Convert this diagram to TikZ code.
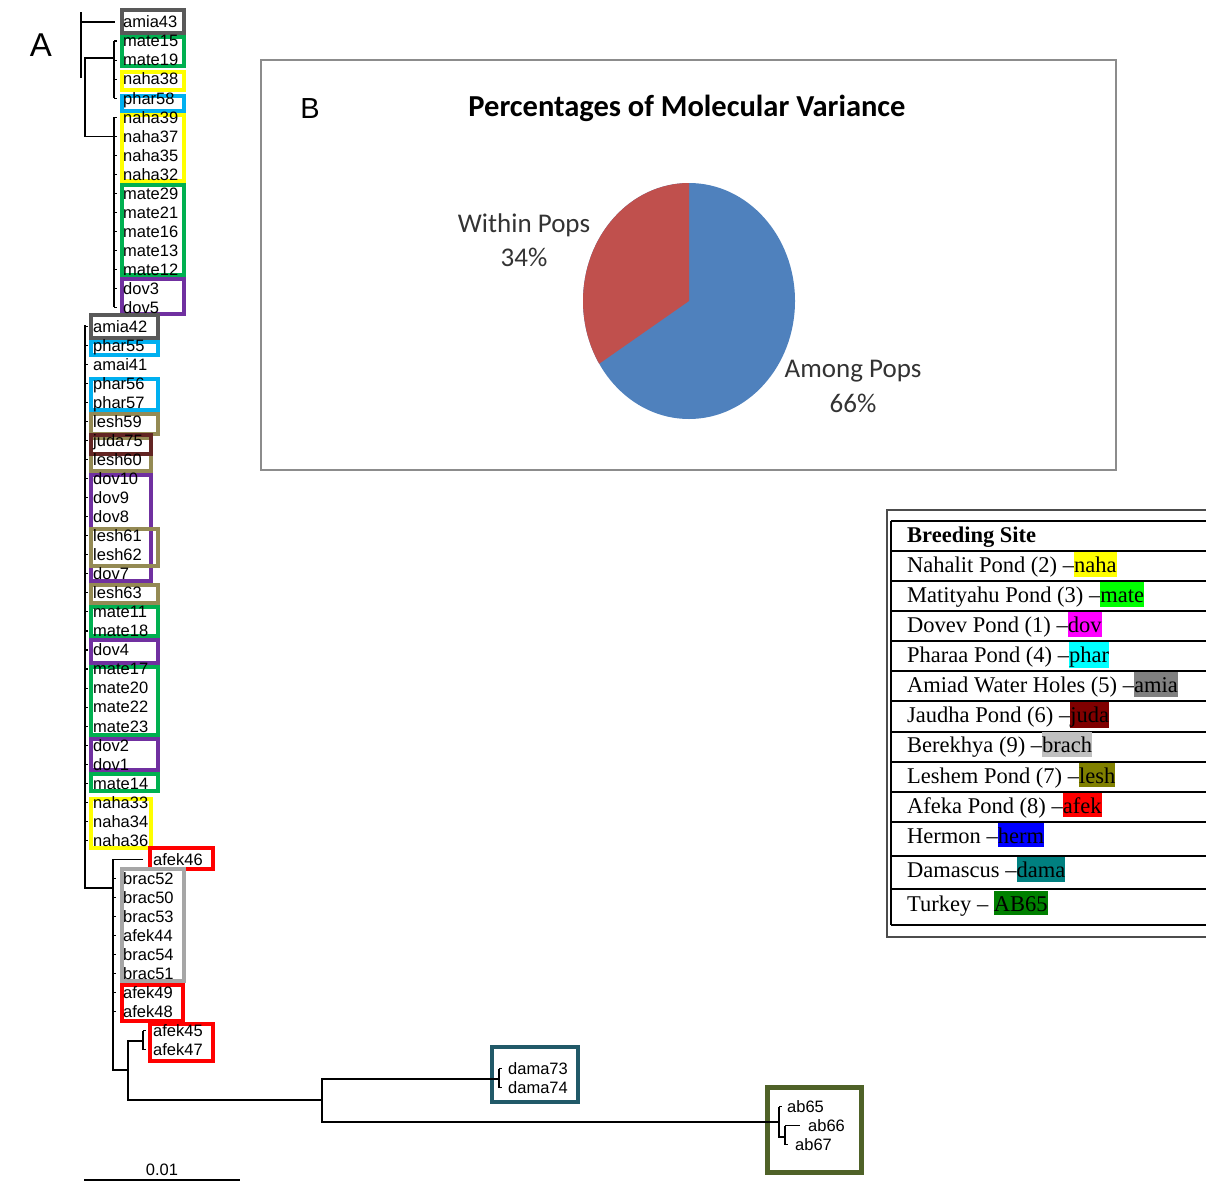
\documentclass[tikz,border=0pt]{standalone}
\usepackage{fontspec}
\setmainfont{Liberation Serif}
\newfontfamily\arialfont{Liberation Sans}
\newfontfamily\calibrifont{Carlito}
\usepackage{tikz}
\def\amovapie{(689,301) ellipse (106 and 118)}
\definecolor{amia edge}{HTML}{595959}
\definecolor{mate edge}{HTML}{00B050}
\definecolor{naha edge}{HTML}{FFFF00}
\definecolor{phar edge}{HTML}{00B0F0}
\definecolor{dov edge}{HTML}{7030A0}
\definecolor{lesh edge}{HTML}{948A54}
\definecolor{juda edge}{HTML}{632523}
\definecolor{brac edge}{HTML}{A6A6A6}
\definecolor{afek edge}{HTML}{FF0000}
\definecolor{dama edge}{HTML}{215968}
\definecolor{ab edge}{HTML}{4F6228}
\definecolor{among area}{HTML}{4F81BD}
\definecolor{within area}{HTML}{C0504D}
\definecolor{tag naha}{HTML}{FFFF00}
\definecolor{tag mate}{HTML}{00FF00}
\definecolor{tag dov}{HTML}{FF00FF}
\definecolor{tag phar}{HTML}{00FFFF}
\definecolor{tag amia}{HTML}{808080}
\definecolor{tag juda}{HTML}{800000}
\definecolor{tag brach}{HTML}{C0C0C0}
\definecolor{tag lesh}{HTML}{808000}
\definecolor{tag afek}{HTML}{FF0000}
\definecolor{tag herm}{HTML}{0000FF}
\definecolor{tag dama}{HTML}{008080}
\definecolor{tag ab}{HTML}{008000}
\newcommand{\sitetag}[2]{{\setlength{\fboxsep}{0pt}\colorbox{#1}{\rule[-4pt]{0pt}{24.5pt}#2}}}
\tikzset{leaf/.style={font=\arialfont\fontsize{16.5}{18}\selectfont, inner sep=0pt, anchor=west, text height=11.8pt, text depth=0pt},
	branch/.style={draw=black, line width=1.3pt},
	leaftick/.style={draw=black, line width=1.1pt},
	popbox/.style={draw=#1, line width=4pt},
	siterow/.style={font=\fontsize{22.5}{27}\selectfont, inner sep=0pt, anchor=base west},
	rowline/.style={draw=black, line width=2pt}}

\begin{document}
\begin{tikzpicture}[x=1pt, y=-1pt]
		\useasboundingbox (0,0) rectangle (1206,1194);
		% population boxes
		\draw[popbox=amia edge] (122,10) rectangle (184,33);
		\draw[popbox=mate edge] (122,37) rectangle (184,66);
		\draw[popbox=naha edge] (122,72) rectangle (184,90);
		\draw[popbox=phar edge] (122,96) rectangle (184,111);
		\draw[popbox=naha edge] (122,115) rectangle (184,181);
		\draw[popbox=mate edge] (122,185) rectangle (184,275);
		\draw[popbox=dov edge] (122,279) rectangle (184,314);
		\draw[popbox=amia edge] (91,315) rectangle (158,338);
		\draw[popbox=phar edge] (91,342) rectangle (158,355);
		\draw[popbox=phar edge] (91,379) rectangle (158,410);
		\draw[popbox=lesh edge] (91,414) rectangle (158,434);
		\draw[popbox=lesh edge] (91,438) rectangle (151,471);
		\draw[popbox=juda edge] (91,435) rectangle (151,454);
		\draw[popbox=dov edge] (91,475) rectangle (151,581);
		\draw[popbox=lesh edge] (91,529) rectangle (158,566);
		\draw[popbox=lesh edge] (91,585) rectangle (158,603);
		\draw[popbox=mate edge] (91,607) rectangle (158,636);
		\draw[popbox=dov edge] (91,640) rectangle (158,663);
		\draw[popbox=mate edge] (91,667) rectangle (158,735);
		\draw[popbox=dov edge] (91,739) rectangle (158,770);
		\draw[popbox=mate edge] (91,774) rectangle (158,791);
		\draw[popbox=naha edge] (91,799) rectangle (151,848);
		\draw[popbox=afek edge] (150,848) rectangle (213,869);
		\draw[popbox=brac edge] (122,869) rectangle (184,981);
		\draw[popbox=afek edge] (122,985) rectangle (183,1021);
		\draw[popbox=afek edge] (150,1024) rectangle (213,1061);
		\draw[popbox=dama edge] (492,1047) rectangle (578,1102);
		\draw[popbox=ab edge, line width=5pt] (767,1087) rectangle (861,1172);
		
		% leaves
		\foreach \leaf [count=\r from 0] in {amia43,mate15,mate19,naha38,phar58,naha39,naha37,naha35,naha32,mate29,mate21,mate16,mate13,mate12,dov3,dov5}
			\node[leaf] (\leaf) at (123,{22+19.03*\r}) {\leaf};
		\foreach \leaf [count=\r from 16] in {amia42,phar55,amai41,phar56,phar57,lesh59,juda75,lesh60,dov10,dov9,dov8,lesh61,lesh62,dov7,lesh63,mate11,mate18,dov4,mate17,mate20,mate22,mate23,dov2,dov1,mate14,naha33,naha34,naha36}
			\node[leaf] (\leaf) at (93,{22+19.03*\r}) {\leaf};
		\node[leaf] (afek46) at (153,{22+19.03*44}) {afek46};
		\foreach \leaf [count=\r from 45] in {brac52,brac50,brac53,afek44,brac54,brac51,afek49,afek48}
			\node[leaf] (\leaf) at (123,{22+19.03*\r}) {\leaf};
		\node[leaf] (afek45) at (153,{22+19.03*53}) {afek45};
		\node[leaf] (afek47) at (153,{22+19.03*54}) {afek47};
		\node[leaf] (dama73) at (508,{22+19.03*55}) {dama73};
		\node[leaf] (dama74) at (508,{22+19.03*56}) {dama74};
		\node[leaf] (ab65) at (787,{22+19.03*57}) {ab65};
		\node[leaf] (ab66) at (808,{22+19.03*58}) {ab66};
		\node[leaf] (ab67) at (795,{22+19.03*59}) {ab67};
		
		% tree
		\coordinate (root) at (81,12);
		\coordinate (cA) at (85,58);
		\coordinate (cA1) at (114,41);
		\coordinate (cA2) at (114,117);
		\coordinate (cB) at (85,325);
		\coordinate (cC) at (113,1070);
		\coordinate (cE) at (143,1041);
		\coordinate (cE2) at (128,1100);
		\coordinate (cD) at (322,1100);
		\coordinate (cDam) at (499,1079);
		\coordinate (cAb) at (779,1122);
		\coordinate (cAb2) at (785,1137);
		\draw[branch] (root) -- (81,78);
		\draw[branch] (root |- amia43.west) -- ([xshift=-8pt]amia43.west);
		\draw[branch] (cA1 |- cA) -- (cA) |- (cA2 |- naha37.west);
		\draw[branch] (cA1) -- (cA1 |- phar58.west);
		\draw[branch] (cA2 |- naha39.west) -- (cA2 |- dov5.west);
		\foreach \leaf in {mate15,mate19,naha38,phar58,naha39,naha37,naha35,naha32,mate29,mate21,mate16,mate13,mate12,dov3,dov5}
			\draw[leaftick] (cA1 |- \leaf.west) -- ++(3,0);
		\draw[branch] (cB) -- (85,888) -- (113,888);
		\foreach \leaf in {amia42,phar55,amai41,phar56,phar57,lesh59,juda75,lesh60,dov10,dov9,dov8,lesh61,lesh62,dov7,lesh63,mate11,mate18,dov4,mate17,mate20,mate22,mate23,dov2,dov1,mate14,naha33,naha34,naha36}
			\draw[leaftick] (cB |- \leaf.west) -- ++(3,0);
		\draw[branch] ([xshift=-10pt]afek46.west) -| (cC) -- (cC -| cE2);
		\foreach \leaf in {brac52,brac50,brac53,afek44,brac54,brac51,afek49,afek48}
			\draw[leaftick] (cC |- \leaf.west) -- ++(3,0);
		\draw[branch] (cE) -| (cE2) -- (cD);
		\draw[branch] (cE |- afek45.west) -- (cE |- afek47.west);
		\draw[leaftick] (cE |- afek45.west) -- ++(3,0);
		\draw[leaftick] (cE |- afek47.west) -- ++(3,0);
		\draw[branch] (cDam) -| (cD) |- (cAb);
		\draw[branch] (cDam |- dama73.west) -- (cDam |- dama74.west);
		\draw[leaftick] (cDam |- dama73.west) -- ++(3,0);
		\draw[leaftick] (cDam |- dama74.west) -- ++(3,0);
		\draw[branch] (cAb |- ab65.west) -- (cAb |- cAb2) -- (cAb2);
		\draw[leaftick] (cAb |- ab65.west) -- ++(3,0);
		\draw[branch] (cAb2 |- ab66.west) -- (cAb2 |- ab67.west);
		\draw[branch] (cAb2 |- ab66.west) -- ([xshift=-8pt]ab66.west);
		\draw[leaftick] (cAb2 |- ab67.west) -- ++(3,0);
		
		% scale bar and panel tag
		\coordinate (bar0) at (84,1180);
		\coordinate (bar1) at (240,1180);
		\draw[branch] (bar0) -- (bar1);
		\node[font=\arialfont\fontsize{16.5}{18}\selectfont, anchor=base] (barlabel) at (162,1175) {0.01};
		\node[font=\arialfont\fontsize{33}{36}\selectfont, anchor=base] (tagA) at (41,56.5) {A};
		
		% AMOVA pie
		\draw[draw=black!45, line width=2pt] (261,60) rectangle (1116,470);
		\node[font=\arialfont\fontsize{29}{32}\selectfont, anchor=base] (tagB) at (310,118) {B};
		\node[font=\calibrifont\bfseries\fontsize{30.5}{34}\selectfont, anchor=base] (title) at (687,116) {Percentages of Molecular Variance};
		\fill[among area] \amovapie;
		\begin{scope}
			\clip \amovapie;
			\fill[within area] (689,301) -- (689,170) -- (553,170) -- (553,396) -- cycle;
		\end{scope}
		\node[font=\calibrifont\fontsize{27}{30}\selectfont, text=black!80, anchor=base] (within) at (524,232) {Within Pops};
		\node[font=\calibrifont\fontsize{27}{30}\selectfont, text=black!80, anchor=base] (withinpc) at (524,266) {34\%};
		\node[font=\calibrifont\fontsize{27}{30}\selectfont, text=black!80, anchor=base] (among) at (853,377) {Among Pops};
		\node[font=\calibrifont\fontsize{27}{30}\selectfont, text=black!80, anchor=base] (amongpc) at (853,412) {66\%};
		
		% breeding site table
		\draw[draw=black!70, line width=2pt] (1206,509.5) -| (887,936.5) -- (1206,936.5);
		\draw[rowline] (891,520.7) -- (891,925);
		\foreach \y in {520.7,551,580.7,610.7,640.7,671,701.3,731.7,761.7,792,822,855.7,889,925}
			\draw[rowline] (891,\y) -- (1206,\y);
		\node[siterow] (sitehead) at (907,542.7) {\bfseries Breeding Site};
		\foreach \site/\tag/\col/\yb [count=\i] in {Nahalit Pond (2) –/naha/tag naha/572.7,
			Matityahu Pond (3) –/mate/tag mate/602.7,
			Dovev Pond (1) –/dov/tag dov/632.7,
			Pharaa Pond (4) –/phar/tag phar/662.7,
			Amiad Water Holes (5) –/amia/tag amia/692.7,
			Jaudha Pond (6) –/juda/tag juda/722.7,
			Berekhya (9) –/brach/tag brach/752.7,
			Leshem Pond (7) –/lesh/tag lesh/783,
			Afeka Pond (8) –/afek/tag afek/813,
			Hermon –/herm/tag herm/843.3,
			Damascus –/dama/tag dama/877.7,
			Turkey –~/AB65/tag ab/911}
			\node[siterow] (site\i) at (907,\yb) {\site\sitetag{\col}{\tag}};
		\end{tikzpicture}
\end{document}
